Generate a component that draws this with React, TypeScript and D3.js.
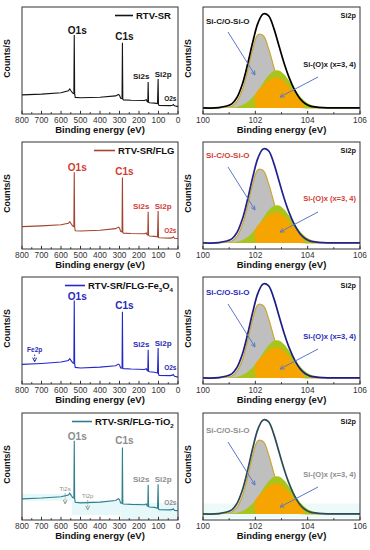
import React from "react";
import * as d3 from "d3";

// ---- survey (wide scan) spectra: binding energy (eV) and counts (% of panel height)
const surveyEv = [800, 700, 600, 562, 555, 548, 540, 534, 532, 530, 527, 500, 400, 320, 305, 300, 294, 287, 285, 283, 280, 240, 172, 163, 158, 155, 153, 151, 147, 120, 105, 102, 100, 97, 40, 28, 24, 18, 0];
const surveyRtvSr = [17.9, 18.6, 19.8, 21.6, 23.4, 21.5, 19.5, 19.0, 73.9, 19.0, 15.5, 15.2, 15.6, 16.9, 18.3, 17.5, 14.8, 14.5, 66.7, 14.0, 13.2, 12.8, 12.6, 13.3, 11.5, 11.2, 29.9, 11.0, 10.5, 10.2, 9.8, 32.7, 9.0, 7.9, 7.8, 8.2, 8.8, 7.6, 6.9];
const surveyFlg = [20.9, 21.6, 22.6, 24.0, 25.5, 23.6, 21.5, 21.0, 71.7, 20.5, 17.0, 16.8, 17.5, 19.0, 20.5, 19.6, 16.5, 16.0, 66.8, 15.5, 14.8, 14.5, 14.3, 15.0, 13.2, 13.0, 34.8, 12.8, 12.2, 11.8, 11.3, 35.4, 10.8, 10.5, 10.2, 10.6, 11.3, 10.0, 9.8];
const surveyFe3O4 = [18.3, 19.2, 20.5, 22.0, 23.6, 21.8, 19.8, 19.3, 78.0, 19.0, 15.5, 15.0, 15.8, 17.0, 18.6, 17.8, 15.0, 14.8, 67.5, 14.6, 14.4, 14.0, 13.6, 14.3, 12.6, 12.3, 32.0, 12.0, 11.5, 11.0, 10.3, 33.7, 9.5, 8.0, 7.8, 8.3, 8.9, 7.2, 6.4];
const surveyTiO2 = [19.7, 20.5, 21.8, 23.3, 25.0, 23.0, 21.0, 20.5, 74.0, 20.0, 16.5, 16.0, 16.7, 18.2, 19.9, 19.0, 15.8, 15.5, 67.8, 15.2, 15.0, 14.6, 14.3, 15.0, 13.3, 13.0, 33.0, 12.7, 12.2, 11.8, 11.0, 33.4, 10.4, 9.7, 9.5, 9.9, 10.5, 9.0, 8.75];
const surveyTicks = [800, 700, 600, 500, 400, 300, 200, 100, 0];
const peakNames = ["O1s", "C1s", "Si2s", "Si2p"];
const peakEv = [532, 285, 153, 102];

// ---- Si2p high resolution fit
const fitEv = [100, 100.6, 101.1, 101.3, 101.5, 101.7, 101.9, 102.1, 102.3, 102.5, 102.7, 102.9, 103.1, 103.3, 103.5, 103.7, 103.9, 104.1, 104.6, 105.1, 106];
const fitEnvelope = [5.7, 6.0, 9.5, 15.5, 27.5, 46.0, 67.0, 85.0, 93.5, 92.0, 80.5, 64.0, 47.5, 33.5, 22.5, 14.5, 9.8, 7.4, 5.9, 5.7, 5.7];
const fitSiCO = [5.7, 5.7, 7.5, 11.9, 22.2, 39.7, 60.4, 74.1, 73.3, 61.6, 44.5, 28.4, 16.8, 10.3, 7.3, 6.2, 5.8, 5.7, 5.7, 5.7, 5.7];
const fitSiOx = [5.7, 5.7, 6.1, 6.8, 8.3, 11.2, 15.7, 22.0, 29.3, 36.0, 40.3, 40.7, 37.1, 30.8, 23.5, 16.9, 11.9, 8.8, 6.0, 5.7, 5.7];
const coreEv = [102.0, 102.0, 102.25, 102.45, 102.65, 102.85, 103.05, 103.25, 103.45, 103.65, 103.85, 103.9];
const coreSiOx = [5.7, 18.5, 25.5, 30.5, 33.5, 34.0, 31.5, 27.0, 21.0, 15.0, 8.5, 5.7];
const fitBaseline = 5.7;
const fitTicks = [100, 102, 104, 106];

const sampleNames = ["RTV-SR", "RTV-SR/FLG", "RTV-SR/FLG-Fe3O4", "RTV-SR/FLG-TiO2"];
const surveySeries = [surveyRtvSr, surveyFlg, surveyFe3O4, surveyTiO2];

// extra arrows on the survey spectra: [label, eV, label value, arrow from, arrow to]
const extraPeaks: [string, number, number, number, number][][] = [
  [],
  [],
  [["Fe2p", 735, 29.6, 27.5, 20.8]],
  [["Ti2s", 579, 27, 25, 15], ["Ti2p", 463, 20.8, 18.7, 9.5]],
];

// ---- layout & style
const W = 370;
const H = 550;
const FONT = "'Liberation Sans', Arial, sans-serif";
const rowTop = [7, 142, 277, 413];
const boxH = 107;
const leftBox = [22, 178];
const rightBox = [203, 360];
const legendLine = [[115, 133], [94, 115], [65, 85], [72, 92]];
const siCODy = [17, 16, 18, 20];
const siOxDy = [60, 59, 62, 64];
const arrowShift = [0, 0, 2, 4];
const rowStyles = [
  { line: "#151515", label: "#151515", env: "#000000", fit: "#151515", extra: "#151515" },
  { line: "#a3442f", label: "#d23c34", env: "#23238f", fit: "#d23c34", extra: "#d23c34" },
  { line: "#2626c9", label: "#2a2ab8", env: "#1d1d86", fit: "#2a2ab8", extra: "#2a2ab8" },
  { line: "#2f7f8e", label: "#8d8d8d", env: "#2b4a56", fit: "#8d8d8d", extra: "#8d8d8d" },
];
const peakDx = [3, 2, -7, 5];
const peakDy = [-1, -3, -3, -2];
const peakSize = [10, 10, 8, 8];

function Arrow({ x1, y1, x2, y2, color, dash }: any) {
  const a = Math.atan2(y2 - y1, x2 - x1);
  const L = 4.5, s = 0.45;
  const head = `M${x2 - L * Math.cos(a - s)},${y2 - L * Math.sin(a - s)}L${x2},${y2}L${x2 - L * Math.cos(a + s)},${y2 - L * Math.sin(a + s)}`;
  return (
    <g stroke={color} fill="none" strokeWidth={1}>
      <line x1={x1} y1={y1} x2={x2} y2={y2} strokeDasharray={dash} />
      <path d={head} />
    </g>
  );
}

// sample name with chemical subscripts (Fe3O4, TiO2)
function SubText({ text, x, y, size, anchor, fill }: any) {
  const parts = text.split(/(\d)/).filter((p: string) => p !== "");
  let shifted = false;
  return (
    <text x={x} y={y} fontSize={size} fontWeight="bold" textAnchor={anchor} fill={fill}>
      {parts.map((p: string, i: number) => {
        const isSub = /^\d$/.test(p);
        let dy = 0;
        if (isSub && !shifted) { dy = 2.5; shifted = true; }
        else if (!isSub && shifted) { dy = -2.5; shifted = false; }
        return (
          <tspan key={i} dy={dy} fontSize={isSub ? size * 0.65 : size}>{p}</tspan>
        );
      })}
    </text>
  );
}

function Frame({ top, box, ticks, minor, x }: any) {
  const bottom = top + boxH;
  return (
    <g>
      <rect x={box[0]} y={top} width={box[1] - box[0]} height={boxH} fill="none" stroke="#333" strokeWidth={1} />
      {minor.map((t: number) => (
        <line key={"m" + t} x1={x(t)} x2={x(t)} y1={bottom} y2={bottom - 1.8} stroke="#333" />
      ))}
      {ticks.map((t: number) => (
        <g key={t}>
          <line x1={x(t)} x2={x(t)} y1={bottom} y2={bottom - 3.2} stroke="#333" />
          <text x={x(t)} y={bottom + 9} fontSize={8.3} textAnchor="middle" fill="#333">{t}</text>
        </g>
      ))}
      <text x={(box[0] + box[1]) / 2} y={bottom + 18.5} fontSize={9.5} fontWeight="bold" textAnchor="middle" fill="#111">
        Binding energy (eV)
      </text>
      <text transform={`translate(${box[0] - 12},${top + boxH / 2 - 2}) rotate(-90)`} fontSize={8.8} fontWeight="bold" textAnchor="middle" fill="#111">
        Counts/S
      </text>
    </g>
  );
}

function SurveyPanel({ row }: { row: number }) {
  const values = surveySeries[row];
  const st = rowStyles[row];
  const top = rowTop[row];
  const bottom = top + boxH;
  const x = d3.scaleLinear().domain([800, 0]).range(leftBox);
  const y = d3.scaleLinear().domain([0, 100]).range([bottom, top]);
  const line = d3.line<number>().x((_, i) => x(surveyEv[i])).y((v) => y(v));
  const o2sIdx = surveyEv.indexOf(24);
  return (
    <g>
      {row === 3 && (
        <g fill="#e6f8f9">
          <rect x={x(800)} y={y(24.4)} width={x(545) - x(800)} height={y(18) - y(24.4)} />
          <rect x={x(545)} y={y(18)} width={x(295) - x(545)} height={y(4.7) - y(18)} />
          <rect x={x(295)} y={y(16)} width={x(0) - x(295)} height={y(0.6) - y(16)} />
        </g>
      )}
      <Frame top={top} box={leftBox} ticks={surveyTicks} minor={d3.range(50, 800, 100)} x={x} />
      <path d={line(values) || ""} fill="none" stroke={st.line} strokeWidth={1.1} />
      {peakNames.map((n, i) => {
        const idx = surveyEv.indexOf(peakEv[i]);
        return (
          <text key={n} x={x(peakEv[i]) + peakDx[i]} y={y(values[idx]) + peakDy[i]} fontSize={peakSize[i]} fontWeight="bold" textAnchor="middle" fill={st.label}>
            {n}
          </text>
        );
      })}
      <text x={x(24) - 3} y={y(values[o2sIdx]) - 4} fontSize={6.5} fontWeight="bold" textAnchor="middle" fill={st.label}>O2s</text>
      {extraPeaks[row].map(([n, ev, lv, a0, a1]) => (
        <g key={n}>
          <text x={x(ev)} y={y(lv)} fontSize={row === 3 ? 6 : 6.5} fontWeight={row === 3 ? "normal" : "bold"} textAnchor="middle" fill={st.extra}>{n}</text>
          <Arrow x1={x(ev)} y1={y(a0)} x2={x(ev)} y2={y(a1)} color={row === 3 ? "#999" : st.extra} dash="1.5,1.2" />
        </g>
      ))}
      <line x1={legendLine[row][0]} x2={legendLine[row][1]} y1={top + 8.5} y2={top + 8.5} stroke={st.line} strokeWidth={1.6} />
      <SubText text={sampleNames[row]} x={legendLine[row][1] + 3} y={top + 12} size={9.5} anchor="start" fill="#111" />
    </g>
  );
}

function Si2pPanel({ row }: { row: number }) {
  const st = rowStyles[row];
  const top = rowTop[row];
  const bottom = top + boxH;
  const x = d3.scaleLinear().domain([100, 106]).range(rightBox);
  const y = d3.scaleLinear().domain([0, 100]).range([bottom, top]);
  const curve = d3.curveCatmullRom.alpha(0.5);
  const area = (ev: number[]) =>
    d3.area<number>().x((_, i) => x(ev[i])).y0(y(fitBaseline)).y1((v) => y(v)).curve(curve);
  const line = (ev: number[]) => d3.line<number>().x((_, i) => x(ev[i])).y((v) => y(v)).curve(curve);
  const l = rightBox[0];
  const sh = arrowShift[row];
  return (
    <g>
      {row === 3 && (
        <rect x={x(100)} y={y(15.5)} width={x(106) - x(100)} height={y(1.5) - y(15.5)} fill="#ecfafa" />
      )}
      <path d={area(fitEv)(fitSiCO) || ""} fill="#bfbfbf" />
      <path d={line(fitEv)(fitSiCO) || ""} fill="none" stroke="#c9a634" strokeWidth={1.2} />
      <path d={area(fitEv)(fitSiOx) || ""} fill="#a9c51c" />
      <path d={area(coreEv)(coreSiOx) || ""} fill="#f6a500" />
      <path d={line(fitEv)(fitEnvelope) || ""} fill="none" stroke={st.env} strokeWidth={1.7} />
      <Frame top={top} box={rightBox} ticks={fitTicks} minor={[101, 103, 105]} x={x} />
      <text x={rightBox[1] - 4} y={top + 11} fontSize={7.3} fontWeight="bold" textAnchor="end" fill="#111">Si2p</text>
      <text x={l + 3} y={top + siCODy[row]} fontSize={8} fontWeight="bold" fill={st.fit}>Si-C/O-Si-O</text>
      <text x={rightBox[1] - 4} y={top + siOxDy[row]} fontSize={7.5} fontWeight="bold" textAnchor="end" fill={st.fit}>Si-(O)x (x=3, 4)</text>
      <Arrow x1={l + 25} y1={top + 25 + sh} x2={l + 52} y2={top + 68 + sh} color="#5b78c8" />
      <Arrow x1={l + 115} y1={top + 70 + sh} x2={l + 77} y2={top + 90 + sh} color="#5b78c8" />
    </g>
  );
}

export default function App() {
  return (
    <svg
      width={W}
      height={H}
      viewBox={`0 0 ${W} ${H}`}
      style={{ position: "absolute", left: 0, top: 0, background: "#fff", fontFamily: FONT }}
    >
      {rowTop.map((_, r) => (
        <g key={r}>
          <SurveyPanel row={r} />
          <Si2pPanel row={r} />
        </g>
      ))}
    </svg>
  );
}
